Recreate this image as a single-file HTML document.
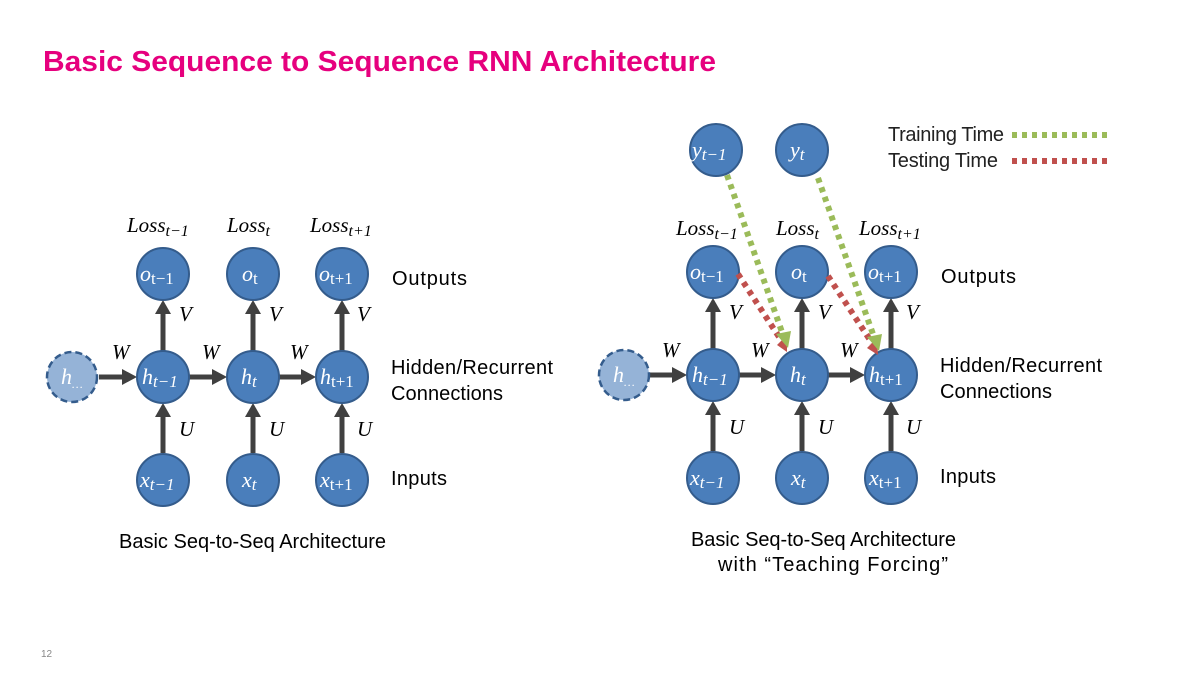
<!DOCTYPE html>
<html><head><meta charset="utf-8"><style>
html,body{margin:0;padding:0;background:#fff;}
svg{display:block;}
.t{font-family:"Liberation Sans",sans-serif;}
.m{font-family:"Liberation Serif",serif;font-style:italic;}
</style></head><body>
<svg width="1200" height="675" viewBox="0 0 1200 675" xmlns="http://www.w3.org/2000/svg">
<text x="43" y="71" class="t" font-size="28.5" font-weight="bold" fill="#e6007e" textLength="673" lengthAdjust="spacingAndGlyphs">Basic Sequence to Sequence RNN Architecture</text>
<text x="41" y="657" class="t" font-size="10" fill="#888">12</text>

<defs>
<g id="nd"><circle r="26" fill="#4a7ebb" stroke="#345c8c" stroke-width="2"/></g>
</defs>

<!-- LEFT DIAGRAM -->
<g stroke="#404040" stroke-width="5" fill="none">
<line x1="99" y1="377" x2="125" y2="377"/>
<line x1="189" y1="377" x2="215" y2="377"/>
<line x1="279" y1="377" x2="304" y2="377"/>
<line x1="163" y1="453" x2="163" y2="415"/>
<line x1="253" y1="453" x2="253" y2="415"/>
<line x1="342" y1="453" x2="342" y2="415"/>
<line x1="163" y1="351" x2="163" y2="312"/>
<line x1="253" y1="351" x2="253" y2="312"/>
<line x1="342" y1="351" x2="342" y2="312"/>
</g>
<g fill="#404040">
<polygon points="122,369 137,377 122,385"/>
<polygon points="212,369 227,377 212,385"/>
<polygon points="301,369 316,377 301,385"/>
<polygon points="155,417 163,403 171,417"/>
<polygon points="245,417 253,403 261,417"/>
<polygon points="334,417 342,403 350,417"/>
<polygon points="155,314 163,300 171,314"/>
<polygon points="245,314 253,300 261,314"/>
<polygon points="334,314 342,300 350,314"/>
</g>
<circle cx="72" cy="377" r="25" fill="#95b3d7" stroke="#345c8c" stroke-width="2.5" stroke-dasharray="7,4"/>
<g>
<use href="#nd" x="163" y="377"/><use href="#nd" x="253" y="377"/><use href="#nd" x="342" y="377"/>
<use href="#nd" x="163" y="274"/><use href="#nd" x="253" y="274"/><use href="#nd" x="342" y="274"/>
<use href="#nd" x="163" y="480"/><use href="#nd" x="253" y="480"/><use href="#nd" x="342" y="480"/>
</g>
<g class="m" fill="#fff" font-size="22">
<text x="61" y="384">h<tspan font-size="12" dy="4">…</tspan></text>
<text x="142" y="384">h<tspan font-size="17" dy="3">t−1</tspan></text>
<text x="241" y="384">h<tspan font-size="17" dy="3">t</tspan></text>
<text x="320" y="384">h<tspan font-size="17" dy="3" font-style="normal">t+1</tspan></text>
<text x="140" y="281">o<tspan font-size="17" dy="3" font-style="normal">t−1</tspan></text>
<text x="242" y="281">o<tspan font-size="17" dy="3" font-style="normal">t</tspan></text>
<text x="319" y="281">o<tspan font-size="17" dy="3" font-style="normal">t+1</tspan></text>
<text x="140" y="487">x<tspan font-size="17" dy="3">t−1</tspan></text>
<text x="242" y="487">x<tspan font-size="17" dy="3">t</tspan></text>
<text x="320" y="487">x<tspan font-size="17" dy="3" font-style="normal">t+1</tspan></text>
</g>
<g class="m" fill="#000" font-size="21">
<text x="127" y="232">Loss<tspan font-size="16" dy="4">t−1</tspan></text>
<text x="227" y="232">Loss<tspan font-size="16" dy="4">t</tspan></text>
<text x="310" y="232">Loss<tspan font-size="16" dy="4">t+1</tspan></text>
<text x="112" y="359">W</text><text x="202" y="359">W</text><text x="290" y="359">W</text>
<text x="179" y="321">V</text><text x="269" y="321">V</text><text x="357" y="321">V</text>
<text x="179" y="436">U</text><text x="269" y="436">U</text><text x="357" y="436">U</text>
</g>
<g class="t" font-size="20" fill="#000" lengthAdjust="spacingAndGlyphs">
<text x="392" y="285" textLength="75">Outputs</text>
<text x="391" y="374" textLength="162">Hidden/Recurrent</text>
<text x="391" y="400" textLength="112">Connections</text>
<text x="391" y="485" textLength="56">Inputs</text>
<text x="119" y="548" textLength="267">Basic Seq-to-Seq Architecture</text>
</g>

<!-- RIGHT DIAGRAM -->
<g stroke="#404040" stroke-width="5" fill="none">
<line x1="650" y1="375" x2="675" y2="375"/>
<line x1="739" y1="375" x2="764" y2="375"/>
<line x1="828" y1="375" x2="853" y2="375"/>
<line x1="713" y1="451" x2="713" y2="413"/>
<line x1="802" y1="451" x2="802" y2="413"/>
<line x1="891" y1="451" x2="891" y2="413"/>
<line x1="713" y1="349" x2="713" y2="310"/>
<line x1="802" y1="349" x2="802" y2="310"/>
<line x1="891" y1="349" x2="891" y2="310"/>
</g>
<g fill="#404040">
<polygon points="672,367 687,375 672,383"/>
<polygon points="761,367 776,375 761,383"/>
<polygon points="850,367 865,375 850,383"/>
<polygon points="705,415 713,401 721,415"/>
<polygon points="794,415 802,401 810,415"/>
<polygon points="883,415 891,401 899,415"/>
<polygon points="705,312 713,298 721,312"/>
<polygon points="794,312 802,298 810,312"/>
<polygon points="883,312 891,298 899,312"/>
</g>
<circle cx="624" cy="375" r="25" fill="#95b3d7" stroke="#345c8c" stroke-width="2.5" stroke-dasharray="7,4"/>
<g>
<use href="#nd" x="713" y="375"/><use href="#nd" x="802" y="375"/><use href="#nd" x="891" y="375"/>
<use href="#nd" x="713" y="272"/><use href="#nd" x="802" y="272"/><use href="#nd" x="891" y="272"/>
<use href="#nd" x="713" y="478"/><use href="#nd" x="802" y="478"/><use href="#nd" x="891" y="478"/>
<use href="#nd" x="716" y="150"/><use href="#nd" x="802" y="150"/>
</g>
<g stroke-width="6" stroke-dasharray="5,5" fill="none">
<line x1="738" y1="274" x2="781" y2="340" stroke="#c0504d"/>
<line x1="828" y1="276" x2="872" y2="343" stroke="#c0504d"/>
<line x1="727" y1="175" x2="783" y2="335" stroke="#9bbb59"/>
<line x1="818" y1="178" x2="874" y2="337" stroke="#9bbb59"/>
<line x1="1012" y1="135" x2="1110" y2="135" stroke="#9bbb59"/>
<line x1="1012" y1="161" x2="1110" y2="161" stroke="#c0504d"/>
</g>
<polygon points="777,345 787,335 787,352" fill="#c0504d"/>
<polygon points="867,348 877,338 878,355" fill="#c0504d"/>
<polygon points="776,334 791,331 788,348" fill="#9bbb59"/>
<polygon points="867,337 882,334 879,351" fill="#9bbb59"/>
<g class="m" fill="#fff" font-size="22">
<text x="613" y="382">h<tspan font-size="12" dy="4">…</tspan></text>
<text x="692" y="382">h<tspan font-size="17" dy="3">t−1</tspan></text>
<text x="790" y="382">h<tspan font-size="17" dy="3">t</tspan></text>
<text x="869" y="382">h<tspan font-size="17" dy="3" font-style="normal">t+1</tspan></text>
<text x="690" y="279">o<tspan font-size="17" dy="3" font-style="normal">t−1</tspan></text>
<text x="791" y="279">o<tspan font-size="17" dy="3" font-style="normal">t</tspan></text>
<text x="868" y="279">o<tspan font-size="17" dy="3" font-style="normal">t+1</tspan></text>
<text x="690" y="485">x<tspan font-size="17" dy="3">t−1</tspan></text>
<text x="791" y="485">x<tspan font-size="17" dy="3">t</tspan></text>
<text x="869" y="485">x<tspan font-size="17" dy="3" font-style="normal">t+1</tspan></text>
<text x="692" y="157">y<tspan font-size="17" dy="3">t−1</tspan></text>
<text x="790" y="157">y<tspan font-size="17" dy="3">t</tspan></text>
</g>
<g class="m" fill="#000" font-size="21">
<text x="676" y="235">Loss<tspan font-size="16" dy="4">t−1</tspan></text>
<text x="776" y="235">Loss<tspan font-size="16" dy="4">t</tspan></text>
<text x="859" y="235">Loss<tspan font-size="16" dy="4">t+1</tspan></text>
<text x="662" y="357">W</text><text x="751" y="357">W</text><text x="840" y="357">W</text>
<text x="729" y="319">V</text><text x="818" y="319">V</text><text x="906" y="319">V</text>
<text x="729" y="434">U</text><text x="818" y="434">U</text><text x="906" y="434">U</text>
</g>
<g class="t" font-size="20" fill="#000" lengthAdjust="spacingAndGlyphs">
<text x="941" y="283" textLength="75">Outputs</text>
<text x="940" y="372" textLength="162">Hidden/Recurrent</text>
<text x="940" y="398" textLength="112">Connections</text>
<text x="940" y="483" textLength="56">Inputs</text>
<text x="691" y="546" textLength="265">Basic Seq-to-Seq Architecture</text>
<text x="718" y="571" textLength="230">with “Teaching Forcing”</text>
<text x="888" y="141" fill="#222" textLength="116">Training Time</text>
<text x="888" y="167" fill="#222" textLength="110">Testing Time</text>
</g>
</svg>
</body></html>
